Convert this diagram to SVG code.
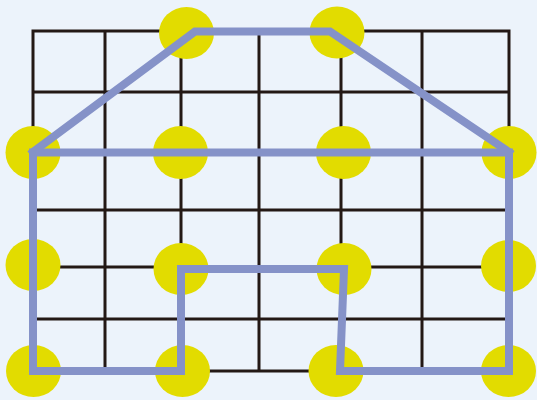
<svg xmlns="http://www.w3.org/2000/svg" width="537" height="400" viewBox="0 0 537 400">
<style>
.grid{stroke:#231815;stroke-width:3;fill:none}
.dot{fill:#e2dc00}
.path{stroke:#8592c8;stroke-width:8;fill:none;stroke-linejoin:miter;stroke-linecap:square}
</style>
<rect width="537" height="400" fill="#ecf3fb"/>
<g id="grid" class="grid">
<rect x="33" y="31" width="476" height="340"/>
<line x1="105" y1="31" x2="105" y2="371"/>
<line x1="181" y1="31" x2="181" y2="371"/>
<line x1="259" y1="31" x2="259" y2="371"/>
<line x1="341" y1="31" x2="341" y2="371"/>
<line x1="422" y1="31" x2="422" y2="371"/>
<line x1="33" y1="92" x2="509" y2="92"/>
<line x1="33" y1="152" x2="509" y2="152"/>
<line x1="33" y1="210" x2="509" y2="210"/>
<line x1="33" y1="267" x2="509" y2="267"/>
<line x1="33" y1="319" x2="509" y2="319"/>
</g>
<g id="dots">
<ellipse id="d1" class="dot" cx="186.5" cy="33" rx="27.5" ry="26"/>
<ellipse id="d2" class="dot" cx="337" cy="32.5" rx="27.5" ry="26"/>
<ellipse id="d3" class="dot" cx="33" cy="152.5" rx="27.5" ry="26.5"/>
<ellipse id="d4" class="dot" cx="180.5" cy="152.5" rx="27.5" ry="26.5"/>
<ellipse id="d5" class="dot" cx="343.5" cy="152.5" rx="27.5" ry="26.5"/>
<ellipse id="d6" class="dot" cx="509" cy="152.5" rx="27.5" ry="26.5"/>
<ellipse id="d7" class="dot" cx="33" cy="265" rx="27.5" ry="26"/>
<ellipse id="d8" class="dot" cx="181" cy="269" rx="27.5" ry="26"/>
<ellipse id="d9" class="dot" cx="344" cy="269" rx="27.5" ry="26"/>
<ellipse id="d10" class="dot" cx="508.5" cy="266" rx="27.5" ry="26"/>
<ellipse id="d11" class="dot" cx="33.5" cy="371" rx="27.5" ry="26"/>
<ellipse id="d12" class="dot" cx="182.5" cy="371" rx="27.5" ry="26"/>
<ellipse id="d13" class="dot" cx="336" cy="371" rx="27.5" ry="26"/>
<ellipse id="d14" class="dot" cx="508.5" cy="371" rx="27.5" ry="26"/>
</g>
<g id="connectors" class="path">
<polyline points="33,152 195,31.5 330,31.5 509,152"/>
<line x1="33" y1="152.5" x2="509" y2="152.5"/>
<polyline points="33,152.5 33,371 181,371 181,269 344,269 340,371 509,371 509,152.5" stroke-linecap="butt"/>
</g>
</svg>
